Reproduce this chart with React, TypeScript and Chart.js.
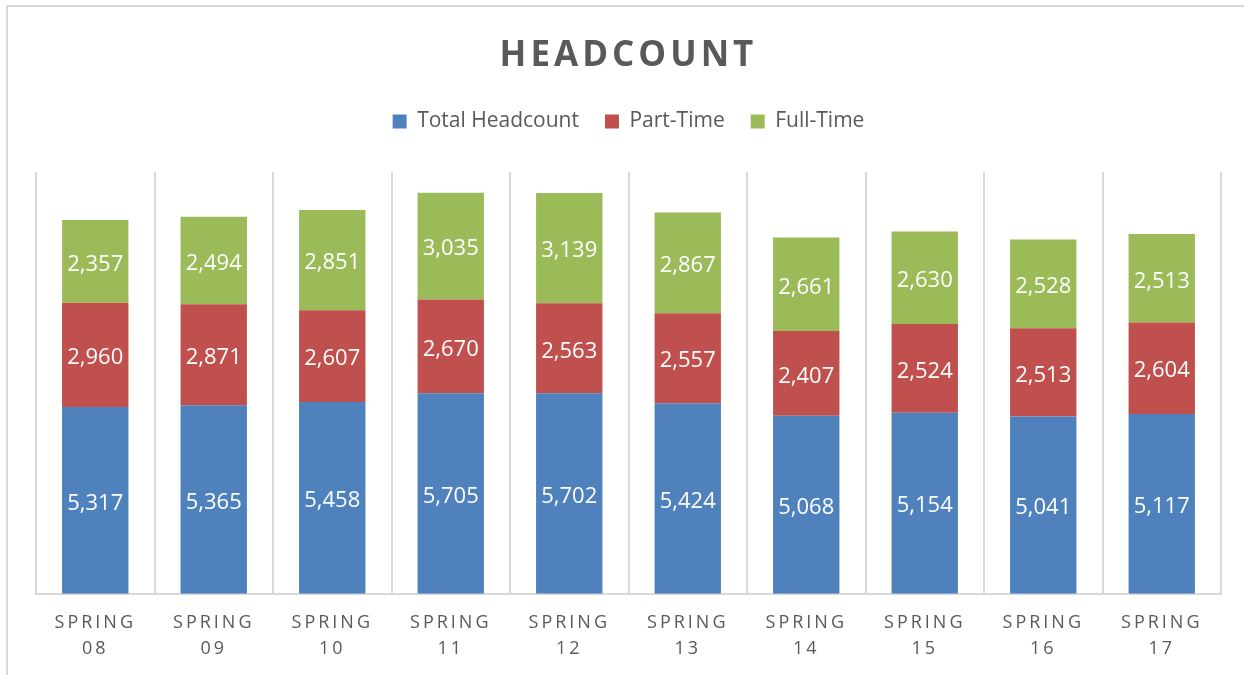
import React, { useEffect, useRef } from "react";
import { Chart, registerables } from "chart.js";

Chart.register(...registerables);

const categories: string[][] = [
  ["SPRING", "08"], ["SPRING", "09"], ["SPRING", "10"], ["SPRING", "11"], ["SPRING", "12"],
  ["SPRING", "13"], ["SPRING", "14"], ["SPRING", "15"], ["SPRING", "16"], ["SPRING", "17"],
];
const totalHeadcount = [5317, 5365, 5458, 5705, 5702, 5424, 5068, 5154, 5041, 5117];
const partTime = [2960, 2871, 2607, 2670, 2563, 2557, 2407, 2524, 2513, 2604];
const fullTime = [2357, 2494, 2851, 3035, 3139, 2867, 2661, 2630, 2528, 2513];

const FONT = "'Open Sans', 'Noto Sans', sans-serif";
const GREY = "#595959";

const frame = {
  id: "frame",
  beforeDraw(chart: any) {
    const ctx = chart.ctx;
    ctx.save();
    ctx.fillStyle = "#ffffff";
    ctx.fillRect(0, 0, chart.width, chart.height);
    ctx.strokeStyle = "#d9d9d9";
    ctx.lineWidth = 2;
    ctx.strokeRect(7, 6, 1400, 800);
    ctx.restore();
    const xs = chart.scales.x;
    if (xs && !xs.__patched) {
      const orig = xs.drawLabels;
      xs.drawLabels = function (area: any) {
        this.ctx.save();
        this.ctx.letterSpacing = "3px";
        orig.call(this, area);
        this.ctx.restore();
      };
      xs.__patched = true;
    }
    const tb = chart.titleBlock;
    if (tb && !tb.__patched) {
      const o = tb.draw;
      tb.draw = function () {
        this.ctx.save();
        this.ctx.letterSpacing = "4px";
        o.call(this);
        this.ctx.restore();
      };
      tb.__patched = true;
    }
  },
};

const valueLabels = {
  id: "valueLabels",
  afterDatasetsDraw(chart: any) {
    const ctx = chart.ctx;
    ctx.save();
    ctx.fillStyle = "#ffffff";
    ctx.font = `22px ${FONT}`;
    ctx.textAlign = "center";
    ctx.textBaseline = "middle";
    chart.data.datasets.forEach((ds: any, di: number) => {
      const meta = chart.getDatasetMeta(di);
      meta.data.forEach((el: any, i: number) => {
        const v = ds.data[i];
        ctx.fillText(v.toLocaleString("en-US"), el.x, (el.y + el.base) / 2 + 3);
      });
    });
    ctx.restore();
  },
};

export default function App() {
  const ref = useRef<HTMLCanvasElement>(null);
  useEffect(() => {
    const chart = new Chart(ref.current!, {
      type: "bar",
      data: {
        labels: categories,
        datasets: [
          { label: "Total Headcount", data: totalHeadcount, backgroundColor: "#4F81BD" },
          { label: "Part-Time", data: partTime, backgroundColor: "#C0504D" },
          { label: "Full-Time", data: fullTime, backgroundColor: "#9BBB59" },
        ],
      },
      options: {
        animation: false,
        responsive: false,
        maintainAspectRatio: false,
        layout: { padding: { left: 36, right: 23, top: 0, bottom: -3 } },
        datasets: { bar: { barPercentage: 0.56, categoryPercentage: 1 } },
        plugins: {
          title: {
            display: true,
            text: "HEADCOUNT",
            color: GREY,
            font: { family: FONT, size: 35, weight: "bold" },
            padding: { top: 35, bottom: 8 },
          },
          legend: {
            position: "top",
            labels: {
              color: GREY,
              font: { family: FONT, size: 21 },
              boxWidth: 14,
              boxHeight: 14,
              padding: 26,
            },
          },
          tooltip: { enabled: false },
        },
        scales: {
          x: {
            stacked: true,
            offset: true,
            grid: { display: true, offset: true, color: "#d9d9d9", lineWidth: 2, drawTicks: false },
            border: { display: true, color: "#d9d9d9", width: 2 },
            ticks: { color: GREY, font: { family: FONT, size: 18, lineHeight: 1.45 }, padding: 16, maxRotation: 0 },
          },
          xTop: {
            type: "category",
            position: "top",
            display: true,
            grid: { display: false, drawTicks: false },
            border: { display: false },
            ticks: { display: false },
            title: { display: true, text: " ", font: { size: 10, lineHeight: 1 }, padding: { top: 10, bottom: 10 } },
          },
          y: {
            stacked: true,
            display: false,
            min: 0,
            max: 12000,
          },
        },
      },
      plugins: [frame, valueLabels],
    });
    return () => chart.destroy();
  }, []);
  return (
    <div style={{ position: "absolute", left: 0, top: 0, width: 1244, height: 675 }}>
      <canvas ref={ref} width={1244} height={675} style={{ display: "block" }} />
    </div>
  );
}
